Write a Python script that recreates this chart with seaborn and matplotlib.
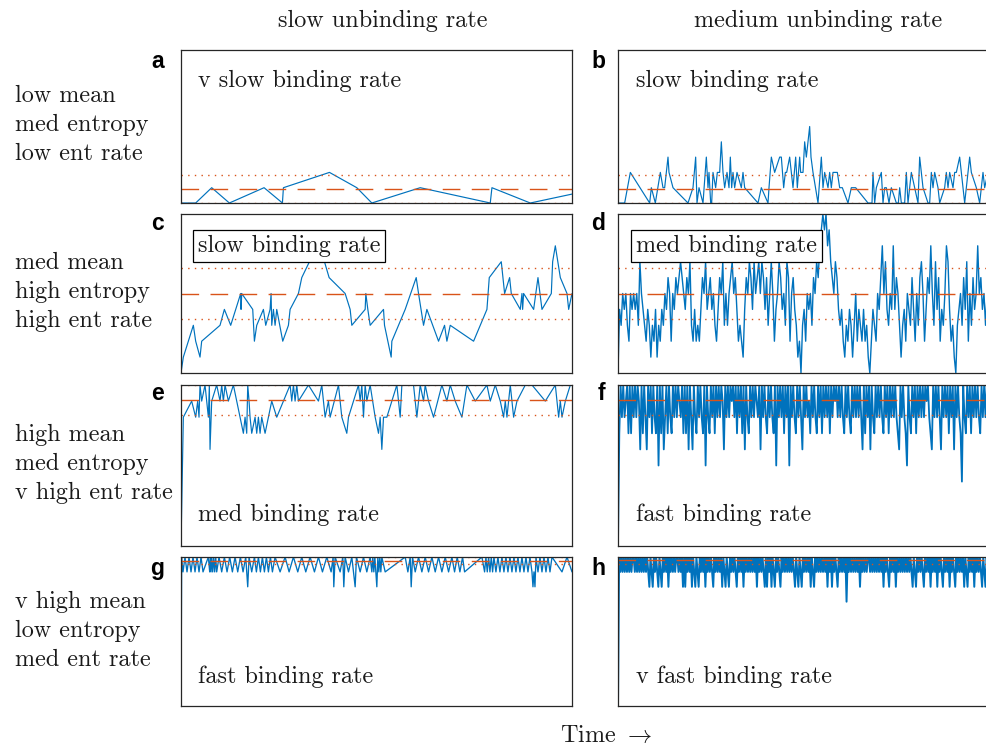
import numpy as np
import matplotlib
matplotlib.use("Agg")
import matplotlib.pyplot as plt
import seaborn as sns

# ---------------- data ----------------
col_titles = ["slow unbinding rate", "medium unbinding rate"]
row_labels = [["low mean", "med entropy", "low ent rate"],
              ["med mean", "high entropy", "high ent rate"],
              ["high mean", "med entropy", "v high ent rate"],
              ["v high mean", "low entropy", "med ent rate"]]
panel_letters = ["a", "b", "c", "d", "e", "f", "g", "h"]
panel_notes = ["v slow binding rate", "slow binding rate",
               "slow binding rate", "med binding rate",
               "med binding rate", "fast binding rate",
               "fast binding rate", "v fast binding rate"]

a_time = [0, 44, 92, 145, 249, 304, 307, 445, 527, 572, 717, 927, 932, 1047, 1262]
a_level = [0, 0, 1, 0, 1, 0, 1, 2, 1, 0, 1, 0, 1, 0, 1]

b_time = [0, 20, 37, 95, 100, 112, 127, 135, 140, 150,
          153, 165, 210, 225, 233, 237, 243, 255, 265, 270,
          273, 278, 281, 285, 293, 298, 305, 310, 315, 320,
          327, 333, 337, 341, 345, 350, 357, 370, 375, 380,
          420, 430, 450, 453, 460, 470, 485, 490, 497, 502,
          506, 515, 520, 525, 533, 538, 545, 548, 555, 560,
          565, 570, 575, 579, 585, 600, 610, 615, 620, 630,
          635, 640, 645, 658, 665, 673, 690, 700, 713, 750,
          756, 762, 765, 770, 775, 790, 795, 800, 805, 813,
          820, 835, 841, 845, 850, 860, 865, 870, 875, 880,
          890, 900, 905, 910, 915, 930, 935, 940, 945, 950,
          960, 965, 980, 985, 990, 995, 1005, 1010, 1015, 1025,
          1030, 1040, 1055, 1060, 1075, 1085, 1095, 1100, 1110, 1125,
          1145, 1173]
b_level = [0, 0, 2, 0, 1, 0, 2, 1, 1, 3,
           2, 1, 0, 1, 3, 0, 1, 0, 3, 1,
           2, 0, 0, 2, 1, 2, 2, 4, 2, 1,
           2, 1, 3, 1, 2, 1, 2, 1, 2, 1,
           0, 1, 0, 1, 3, 2, 3, 3, 1, 2,
           2, 3, 2, 1, 3, 1, 3, 2, 2, 4,
           3, 4, 5, 3, 2, 0, 3, 1, 2, 1,
           2, 1, 2, 2, 1, 1, 0, 1, 1, 0,
           0, 0, 2, 0, 1, 2, 0, 1, 1, 0,
           1, 0, 0, 1, 0, 0, 2, 0, 1, 2,
           1, 0, 3, 2, 1, 0, 0, 2, 1, 2,
           1, 0, 1, 2, 1, 2, 1, 2, 2, 3,
           2, 0, 3, 2, 1, 0, 2, 1, 2, 0,
           1, 0]

c_time = [0, 7, 37, 44, 57, 62, 117, 130, 149, 179,
          180, 182, 215, 220, 227, 247, 254, 267, 270, 272,
          277, 282, 287, 305, 322, 327, 352, 362, 385, 407,
          430, 444, 492, 507, 512, 552, 554, 560, 567, 607,
          610, 630, 632, 672, 705, 712, 727, 737, 772, 790,
          797, 807, 877, 917, 924, 960, 970, 985, 990, 1017,
          1022, 1024, 1027, 1057, 1070, 1082, 1110, 1114, 1122, 1137,
          1157, 1162, 1172]
c_level = [0, 1, 3, 2, 1, 2, 3, 4, 3, 5,
           4, 5, 4, 2, 3, 4, 3, 4, 5, 3,
           4, 3, 4, 2, 3, 4, 5, 6, 7, 8,
           7, 6, 5, 4, 3, 4, 5, 4, 3, 4,
           3, 1, 2, 4, 6, 5, 3, 4, 2, 3,
           2, 3, 2, 4, 6, 7, 5, 6, 5, 4,
           5, 4, 5, 4, 6, 4, 5, 7, 8, 6,
           5, 4, 5]

d_level = [0, 4, 3, 5, 4, 5, 3, 2,
           5, 4, 5, 4, 5, 3, 7, 5, 4,
           3, 2, 4, 3, 1, 3, 2, 4, 1, 3, 2, 4, 3,
           5, 4, 6, 5, 2, 5, 4, 6,
           5, 6, 7, 6, 5, 4, 6, 5, 7, 3, 2, 4, 2,
           3, 2, 4, 6, 5, 7, 4, 5,
           6, 4, 5, 3, 2, 4, 6, 5, 7, 3, 5,
           3, 5, 6, 7, 5, 6, 4, 2, 3, 2,
           1, 4, 6, 5, 7, 6, 4, 7, 5, 6, 7,
           5, 7, 6, 4, 6, 3, 5, 7, 5, 2, 4,
           5, 7, 6, 4, 5, 3, 7, 6, 2, 5, 6, 4,
           3, 1, 2, 0, 3, 4, 2, 5, 4,
           5, 3, 6, 5, 7, 6, 8, 9,
           10, 9, 10, 8, 9,
           7, 6, 5, 7, 6, 4, 3, 4, 2,
           1, 3, 2, 4, 3, 1, 3, 5, 2, 4, 3, 2, 4,
           2, 3, 1, 0, 2, 4, 3, 2,
           5, 4, 6, 8, 5, 7, 4, 3, 5, 4, 8, 4, 6,
           5, 3, 1, 3, 4, 2, 5, 4,
           3, 6, 4, 2, 5, 3, 6, 7, 5, 2, 4, 6, 5,
           8, 5, 3, 7, 4, 6, 2, 4,
           3, 5, 8, 7, 4, 2, 3, 1, 0, 3, 4,
           5, 3, 6, 4, 7, 2, 5, 3, 6, 4, 5,
           8, 5, 6, 4, 5, 3,
           5, 4, 6, 3, 5, 4, 2, 5, 6, 4, 3, 5, 4, 6, 5]

e_time = [0, 7, 32, 44, 50, 54, 57, 62, 72, 82,
          85, 87, 92, 107, 117, 122, 127, 132, 142, 157,
          167, 177, 187, 192, 197, 200, 204, 207, 212, 222,
          227, 232, 237, 242, 252, 272, 287, 327, 332, 337,
          342, 347, 352, 382, 412, 422, 432, 442, 447, 472,
          482, 497, 502, 532, 537, 542, 547, 552, 557, 567,
          582, 592, 597, 602, 607, 617, 647, 657, 662, 697,
          707, 717, 727, 732, 742, 757, 782, 797, 807, 822,
          842, 857, 882, 917, 927, 942, 957, 967, 972, 977,
          987, 997, 1007, 1032, 1052, 1092, 1122, 1132, 1137, 1142,
          1152, 1167, 1172]
e_level = [0, 8, 9, 8, 9, 8, 10, 9, 10, 8,
           10, 6, 9, 10, 9, 10, 9, 10, 9, 10,
           9, 8, 7, 8, 7, 10, 9, 8, 7, 8,
           7, 8, 7, 8, 7, 9, 8, 10, 9, 10,
           9, 10, 9, 10, 9, 10, 8, 9, 8, 10,
           8, 7, 8, 10, 9, 10, 8, 10, 9, 10,
           8, 7, 8, 6, 8, 8, 10, 8, 10, 10,
           8, 10, 9, 10, 9, 8, 10, 9, 10, 9,
           8, 10, 9, 10, 9, 10, 9, 8, 9, 8,
           10, 8, 9, 10, 10, 9, 10, 8, 9, 8,
           9, 10, 10]

f_level = [0, 7, 10, 8, 10, 8, 9, 10, 7, 10,
           7, 10, 8, 10, 8, 10, 9, 6, 10, 7,
           10, 8, 6, 10, 8, 10, 7, 10, 8, 7,
           10, 5, 10, 7, 10, 6, 8, 10, 7, 10,
           8, 7, 10, 8, 10, 8, 10, 9, 8, 10,
           7, 10, 7, 10, 6, 10, 8, 6, 10, 8,
           7, 10, 8, 10, 8, 7, 10, 5, 10, 8,
           7, 10, 8, 10, 7, 10, 8, 10, 8, 10,
           9, 6, 10, 8, 10, 8, 10, 9, 10, 8,
           10, 7, 10, 8, 10, 7, 10, 6, 10, 8,
           7, 10, 8, 10, 8, 10, 9, 8, 10, 6,
           10, 8, 10, 8, 7, 10, 8, 10, 8, 7,
           10, 5, 10, 8, 10, 8, 10, 7, 10, 8,
           10, 5, 10, 8, 10, 8, 7, 10, 8, 10,
           8, 6, 10, 8, 10, 8, 9, 7, 10, 8,
           10, 8, 7, 10, 8, 10, 7, 10, 8, 10,
           8, 10, 7, 10, 8, 10, 9, 10, 8, 10,
           8, 10, 8, 7, 10, 8, 10, 8, 7, 10,
           8, 10, 8, 10, 8, 10, 8, 6, 10, 7,
           10, 8, 10, 6, 10, 8, 7, 10, 8, 10,
           8, 10, 8, 7, 10, 8, 10, 7, 10, 8,
           10, 8, 10, 8, 7, 6, 10, 8, 10, 8,
           7, 5, 10, 8, 7, 10, 8, 10, 7, 10,
           8, 10, 8, 10, 8, 10, 9, 10, 8, 7,
           6, 10, 8, 10, 8, 10, 8, 6, 10, 8,
           10, 8, 10, 7, 10, 8, 10, 6, 10, 8,
           10, 8, 7, 4, 10, 8, 7, 10, 8, 10,
           7, 10, 8, 10, 8, 10, 8, 7, 10, 8,
           10, 8, 10, 7, 10, 8, 10, 8, 10, 8,
           10, 8, 10, 7, 10, 8, 10, 8, 10, 8]

g_time = [0, 2, 6, 12, 18, 24, 30, 36, 42, 48,
          54, 60, 66, 82, 86, 88, 90, 92, 95, 98,
          101, 104, 107, 114, 122, 130, 138, 146, 154, 162,
          170, 178, 186, 194, 200, 204, 212, 220, 226, 232,
          238, 244, 250, 256, 262, 268, 274, 282, 297, 312,
          324, 337, 350, 362, 374, 387, 400, 412, 424, 437,
          450, 456, 458, 462, 477, 485, 488, 492, 502, 512,
          522, 526, 537, 547, 557, 567, 572, 575, 578, 581,
          584, 587, 590, 593, 596, 599, 602, 612, 672, 680,
          687, 690, 694, 702, 712, 722, 732, 742, 752, 762,
          772, 782, 792, 802, 812, 820, 828, 836, 844, 850,
          902, 910, 914, 918, 922, 926, 930, 934, 938, 944,
          950, 956, 962, 968, 974, 980, 986, 992, 998, 1004,
          1010, 1016, 1022, 1028, 1034, 1040, 1046, 1052, 1055, 1058,
          1061, 1064, 1070, 1076, 1082, 1088, 1094, 1100, 1106, 1112,
          1142, 1157, 1172]
g_level = [0, 10, 9, 10, 9, 10, 9, 10, 9, 10,
           9, 10, 9, 10, 9, 10, 9, 10, 9, 10,
           9, 10, 9, 10, 9, 10, 9, 10, 9, 10,
           9, 10, 9, 10, 8, 10, 9, 10, 9, 10,
           9, 10, 9, 10, 9, 10, 9, 10, 9, 10,
           9, 10, 9, 10, 9, 10, 9, 10, 9, 10,
           9, 10, 8, 10, 9, 10, 8, 10, 9, 10,
           8, 10, 9, 10, 9, 10, 9, 10, 9, 10,
           9, 8, 10, 9, 10, 9, 10, 9, 10, 9,
           10, 8, 10, 9, 10, 9, 10, 9, 10, 9,
           10, 9, 10, 9, 10, 9, 10, 9, 10, 9,
           10, 9, 10, 9, 10, 9, 10, 9, 10, 9,
           10, 9, 10, 9, 10, 9, 10, 9, 10, 9,
           10, 9, 10, 9, 10, 9, 10, 9, 8, 9,
           8, 10, 9, 10, 9, 10, 9, 10, 9, 10,
           9, 10, 9]

h_level = [0, 10, 9, 10, 9, 10, 9, 10, 9, 10,
           9, 10, 9, 10, 10, 9, 10, 9, 10, 9,
           10, 9, 10, 9, 10, 9, 10, 9, 8, 10,
           9, 8, 10, 9, 10, 9, 8, 10, 9, 8,
           10, 9, 10, 9, 10, 8, 10, 9, 10, 9,
           10, 9, 10, 10, 9, 10, 9, 10, 8, 10,
           8, 10, 9, 10, 9, 10, 8, 10, 9, 8,
           10, 9, 8, 10, 9, 10, 9, 10, 8, 10,
           9, 10, 9, 10, 9, 8, 10, 9, 10, 9,
           10, 9, 10, 8, 10, 9, 8, 10, 9, 8,
           10, 9, 10, 9, 10, 9, 8, 10, 9, 10,
           9, 10, 8, 10, 9, 10, 9, 10, 9, 10,
           9, 10, 9, 10, 8, 10, 9, 10, 9, 10,
           9, 8, 10, 8, 10, 9, 10, 8, 10, 9,
           8, 10, 9, 10, 9, 8, 10, 9, 10, 9,
           10, 9, 10, 9, 10, 9, 10, 9, 8, 10,
           9, 8, 10, 9, 8, 10, 9, 10, 9, 10,
           9, 10, 8, 10, 9, 8, 10, 9, 10, 9,
           10, 9, 10, 9, 10, 9, 10, 8, 10, 9,
           10, 8, 10, 9, 10, 9, 8, 10, 9, 10,
           9, 10, 9, 10, 7, 10, 9, 10, 9, 10,
           9, 10, 9, 10, 9, 10, 8, 10, 9, 10,
           9, 10, 9, 10, 10, 9, 10, 9, 10, 9,
           10, 9, 10, 9, 10, 9, 10, 8, 10, 9,
           10, 9, 8, 10, 9, 10, 9, 10, 8, 10,
           9, 10, 9, 10, 9, 10, 9, 10, 9, 10,
           9, 10, 9, 8, 10, 9, 8, 10, 9, 10,
           9, 10, 9, 8, 10, 9, 10, 9, 10, 8,
           10, 9, 10, 9, 10, 8, 10, 9, 10, 9,
           8, 10, 9, 10, 9, 10, 8, 10, 9, 10,
           9, 8, 10, 9, 10, 9, 10, 9, 10, 8,
           10, 9, 8, 10, 9, 10, 9, 10, 8, 10,
           9, 10, 9, 10, 9, 8, 10, 9, 8, 10,
           9, 10, 9, 10, 9, 10, 9, 10, 9, 10,
           9, 10, 9, 10, 9, 10, 9, 10, 9, 10]

# mean level and +/- one standard deviation for each panel
level_mean = [0.92, 0.90, 5.0, 5.0, 9.05, 9.06, 9.76, 9.83]
level_low = [0.02, 0.02, 3.4, 3.4, 8.15, 8.15, 9.52, 9.52]
level_high = [1.85, 1.80, 6.6, 6.6, 9.97, 9.97, 10.0, 10.14]

# ---------------- style ----------------
sns.set_style("white")
plt.rcParams["mathtext.fontset"] = "cm"
plt.rcParams["lines.scale_dashes"] = False
plt.rcParams["axes.unicode_minus"] = False

BLUE = "#0072BD"
ORANGE = "#D95319"
SPINE = "#262626"
SERIF = "cmr10"
FS = 17.4

W, H = 986, 748
fig = plt.figure(figsize=(W / 100, H / 100), dpi=100)


def fx(px):
    return px / W


def fy(py):
    return 1 - py / H


col_left = [181, 618]
col_width = 391
row_box = [(50, 203), (214, 373), (385, 546), (557, 706)]

series = [
    (a_time, a_level, 1172),
    (b_time, b_level, 1173),
    (c_time, c_level, 1172),
    (list(range(len(d_level))), d_level, 250),
    (e_time, e_level, 1172),
    (list(range(len(f_level))), f_level, 299),
    (g_time, g_level, 1172),
    (list(range(len(h_level))), h_level, 349),
]
trace_lw = [0.85, 0.85, 0.85, 1.0, 0.85, 1.3, 0.95, 1.4]

# note positions (left x, baseline y) in pixels
note_pos = [(198, 86.5), (636, 86.5), (198, 252), (636, 252),
            (198, 521), (636, 521), (198, 683), (636, 683)]
boxed = [False, False, True, True, False, False, False, False]
letter_base = [68.5, 230.5, 400.5, 575]

for k in range(8):
    r, c = divmod(k, 2)
    top, bot = row_box[r]
    ax = fig.add_axes([fx(col_left[c]), fy(bot), col_width / W, (bot - top) / H])
    t, v, tmax = series[k]
    assert len(t) == len(v), (k, len(t), len(v))
    sns.lineplot(x=np.asarray(t, float), y=np.asarray(v, float), ax=ax,
                 color=BLUE, linewidth=trace_lw[k], estimator=None, sort=False,
                 legend=False, zorder=2)
    ax.axhline(level_mean[k], color=ORANGE, linewidth=1.0,
               linestyle=(0, (12.7, 8.2)), zorder=3)
    for yv in (level_low[k], level_high[k]):
        ax.axhline(yv, color=ORANGE, linewidth=1.0,
                   linestyle=(0, (1.0, 3.8)), zorder=3)
    ax.set_xlim(0, tmax)
    ax.set_ylim(0, 10)
    ax.set_xticks([])
    ax.set_yticks([])
    ax.set_xlabel("")
    ax.set_ylabel("")
    for s in ax.spines.values():
        s.set_color(SPINE)
        s.set_linewidth(0.9)
        s.set_zorder(4)

    nx, ny = note_pos[k]
    kw = dict(fontfamily=SERIF, fontsize=FS, ha="left", va="baseline",
              color="#1a1a1a", zorder=6)
    if boxed[k]:
        kw["bbox"] = dict(boxstyle="square,pad=0.2", fc="white",
                          ec="black", lw=0.9)
    fig.text(fx(nx), fy(ny), panel_notes[k], **kw)

    lx = 164 if c == 0 else 605
    fig.text(fx(lx), fy(letter_base[r]), panel_letters[k],
             fontfamily="Liberation Sans", fontweight="bold", fontsize=16.5,
             ha="right", va="baseline", color="black")

# column titles
for c, x in enumerate([383, 818]):
    fig.text(fx(x), fy(26.5), col_titles[c], fontfamily=SERIF, fontsize=FS,
             ha="center", va="baseline", color="#1a1a1a")

# row labels
row_base = [102, 269, 441, 608]
for r in range(4):
    for j, line in enumerate(row_labels[r]):
        fig.text(fx(15), fy(row_base[r] + 29 * j), line, fontfamily=SERIF,
                 fontsize=FS, ha="left", va="baseline", color="#1a1a1a")

fig.text(fx(606), fy(742), r"Time $\rightarrow$", fontfamily=SERIF,
         fontsize=FS, ha="center", va="baseline", color="#1a1a1a")

fig.savefig("out.png", dpi=100)
